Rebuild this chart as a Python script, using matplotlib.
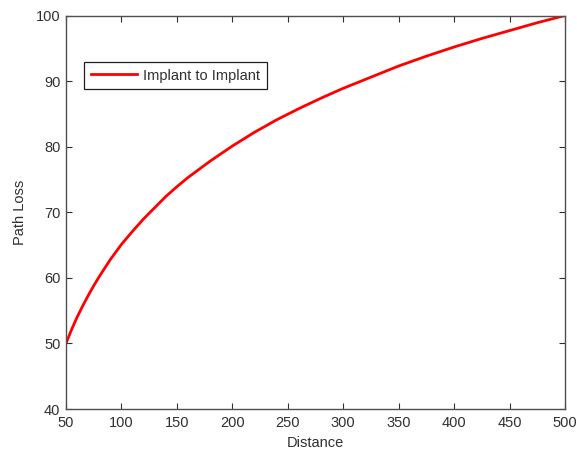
import matplotlib
matplotlib.use("Agg")
import matplotlib.pyplot as plt

plt.rcParams['font.family'] = ['Liberation Sans', 'DejaVu Sans']

# values
distance = [50, 55, 60, 65, 70, 75, 80, 90, 100, 110, 120, 130, 140, 150,
            160, 180, 200, 220, 240, 260, 280, 300, 325, 350, 375, 400,
            425, 450, 475, 500]
path_loss = [50.0, 52.1, 54.0, 55.7, 57.3, 58.8, 60.2, 62.8, 65.1, 67.1,
             69.0, 70.7, 72.4, 73.9, 75.3, 77.8, 80.1, 82.2, 84.1, 85.8,
             87.4, 88.9, 90.6, 92.3, 93.8, 95.2, 96.5, 97.7, 98.9, 100.0]
xticks = [50, 100, 150, 200, 250, 300, 350, 400, 450, 500]
yticks = [40, 50, 60, 70, 80, 90, 100]

fig = plt.figure(figsize=(5.77, 4.51), dpi=100)
ax = fig.add_axes([0.1144, 0.0931, 0.8648, 0.8725])

ax.plot(distance, path_loss, color='#ff0000', lw=2.0, label='Implant to Implant')

ax.set_xlim(50, 500)
ax.set_ylim(40, 100)
ax.set_xticks(xticks)
ax.set_yticks(yticks)
ax.tick_params(direction='in', top=True, right=True, length=4, width=0.8,
               labelsize=10.5, colors='#303030')
ax.tick_params(axis='x', pad=5)
ax.tick_params(axis='y', pad=4)
for s in ax.spines.values():
    s.set_color('#505050')
    s.set_linewidth(1.0)

ax.set_xlabel('Distance', fontsize=10.5, color='#303030', labelpad=4)
ax.set_ylabel('Path Loss', fontsize=10.5, color='#303030', labelpad=6)

leg = ax.legend(loc='upper left', bbox_to_anchor=(0.036, 0.882),
                borderaxespad=0, fontsize=10.5, fancybox=False,
                edgecolor='#202020', framealpha=1, handlelength=3.2,
                borderpad=0.45, handletextpad=0.4)
leg.get_frame().set_linewidth(0.9)
for t in leg.get_texts():
    t.set_color('#303030')

fig.savefig('out.png', dpi=100)
